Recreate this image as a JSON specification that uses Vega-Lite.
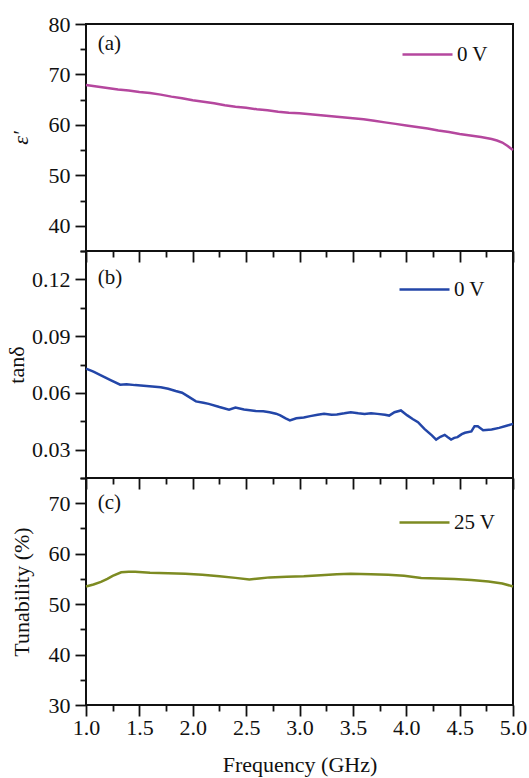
{
  "$schema": "https://vega.github.io/schema/vega-lite/v6.json",
  "background": "white",
  "padding": {"left": 4, "top": 12, "right": 4, "bottom": 4},
  "spacing": 0,
  "bounds": "flush",
  "config": {
    "font": "Liberation Serif",
    "view": {"stroke": "#111", "strokeWidth": 2},
    "axis": {
      "grid": false,
      "domain": false,
      "tickColor": "#111",
      "tickWidth": 1.8,
      "labelFlush": false,
      "labelOverlap": false,
      "labelFont": "Liberation Serif",
      "labelFontSize": 22,
      "labelColor": "#111",
      "titleFont": "Liberation Serif",
      "titleFontSize": 22,
      "titleFontWeight": "normal",
      "titleColor": "#111"
    },
    "legend": {
      "labelFont": "Liberation Serif",
      "labelFontSize": 21,
      "labelColor": "#111",
      "symbolType": "stroke",
      "symbolSize": 2500,
      "symbolStrokeWidth": 2.5,
      "labelOffset": 3,
      "padding": 0
    }
  },
  "resolve": {"scale": {"color": "independent"}},
  "datasets": {
    "eps": [
      {"f": 1.0, "v": 67.9}, {"f": 1.1, "v": 67.6}, {"f": 1.2, "v": 67.3}, {"f": 1.3, "v": 67.0},
      {"f": 1.4, "v": 66.8}, {"f": 1.5, "v": 66.5}, {"f": 1.6, "v": 66.3}, {"f": 1.7, "v": 66.0},
      {"f": 1.8, "v": 65.6}, {"f": 1.9, "v": 65.3}, {"f": 2.0, "v": 64.9}, {"f": 2.1, "v": 64.6},
      {"f": 2.2, "v": 64.3}, {"f": 2.3, "v": 63.9}, {"f": 2.4, "v": 63.6}, {"f": 2.5, "v": 63.4},
      {"f": 2.6, "v": 63.1}, {"f": 2.7, "v": 62.9}, {"f": 2.8, "v": 62.6}, {"f": 2.9, "v": 62.4},
      {"f": 3.0, "v": 62.3}, {"f": 3.1, "v": 62.1}, {"f": 3.2, "v": 61.9}, {"f": 3.3, "v": 61.7},
      {"f": 3.4, "v": 61.5}, {"f": 3.5, "v": 61.3}, {"f": 3.6, "v": 61.1}, {"f": 3.7, "v": 60.8},
      {"f": 3.8, "v": 60.5}, {"f": 3.9, "v": 60.2}, {"f": 4.0, "v": 59.9}, {"f": 4.1, "v": 59.6},
      {"f": 4.2, "v": 59.3}, {"f": 4.3, "v": 58.9}, {"f": 4.4, "v": 58.6}, {"f": 4.5, "v": 58.2},
      {"f": 4.6, "v": 57.9}, {"f": 4.7, "v": 57.6}, {"f": 4.75, "v": 57.4}, {"f": 4.8, "v": 57.2},
      {"f": 4.85, "v": 56.9}, {"f": 4.9, "v": 56.5}, {"f": 4.95, "v": 55.8}, {"f": 5.0, "v": 55.0}
    ],
    "tan": [
      {"f": 1.0, "v": 0.0728}, {"f": 1.07, "v": 0.0712}, {"f": 1.14, "v": 0.0693}, {"f": 1.23, "v": 0.0668},
      {"f": 1.32, "v": 0.0643}, {"f": 1.38, "v": 0.0646}, {"f": 1.46, "v": 0.0641}, {"f": 1.54, "v": 0.0638},
      {"f": 1.62, "v": 0.0634}, {"f": 1.7, "v": 0.0630}, {"f": 1.77, "v": 0.0622}, {"f": 1.84, "v": 0.0610},
      {"f": 1.9, "v": 0.0601}, {"f": 1.96, "v": 0.0580}, {"f": 2.03, "v": 0.0555}, {"f": 2.1, "v": 0.0548},
      {"f": 2.15, "v": 0.0542}, {"f": 2.25, "v": 0.0525}, {"f": 2.34, "v": 0.0511}, {"f": 2.4, "v": 0.0522},
      {"f": 2.48, "v": 0.0512}, {"f": 2.59, "v": 0.0504}, {"f": 2.66, "v": 0.0503}, {"f": 2.72, "v": 0.0498},
      {"f": 2.78, "v": 0.0490}, {"f": 2.82, "v": 0.0481}, {"f": 2.87, "v": 0.0465}, {"f": 2.91, "v": 0.0454},
      {"f": 2.97, "v": 0.0466}, {"f": 3.04, "v": 0.0470}, {"f": 3.1, "v": 0.0477}, {"f": 3.17, "v": 0.0484},
      {"f": 3.23, "v": 0.0489}, {"f": 3.3, "v": 0.0484}, {"f": 3.35, "v": 0.0486}, {"f": 3.42, "v": 0.0492},
      {"f": 3.48, "v": 0.0498}, {"f": 3.55, "v": 0.0492}, {"f": 3.61, "v": 0.0489}, {"f": 3.67, "v": 0.0492},
      {"f": 3.73, "v": 0.0489}, {"f": 3.8, "v": 0.0484}, {"f": 3.84, "v": 0.0480}, {"f": 3.89, "v": 0.0498},
      {"f": 3.95, "v": 0.0507}, {"f": 4.01, "v": 0.0481}, {"f": 4.06, "v": 0.0462}, {"f": 4.11, "v": 0.0445},
      {"f": 4.17, "v": 0.0410}, {"f": 4.24, "v": 0.0375}, {"f": 4.28, "v": 0.0353}, {"f": 4.32, "v": 0.0368},
      {"f": 4.36, "v": 0.0378}, {"f": 4.39, "v": 0.0365}, {"f": 4.42, "v": 0.0353}, {"f": 4.45, "v": 0.0362},
      {"f": 4.48, "v": 0.0366}, {"f": 4.52, "v": 0.0382}, {"f": 4.55, "v": 0.0389}, {"f": 4.61, "v": 0.0396},
      {"f": 4.64, "v": 0.0424}, {"f": 4.67, "v": 0.0424}, {"f": 4.72, "v": 0.0402}, {"f": 4.8, "v": 0.0406},
      {"f": 4.87, "v": 0.0415}, {"f": 4.94, "v": 0.0426}, {"f": 5.0, "v": 0.0436}
    ],
    "tun": [
      {"f": 1.0, "v": 53.5}, {"f": 1.07, "v": 53.9}, {"f": 1.14, "v": 54.4}, {"f": 1.2, "v": 55.0},
      {"f": 1.25, "v": 55.6}, {"f": 1.33, "v": 56.3}, {"f": 1.4, "v": 56.4}, {"f": 1.46, "v": 56.4},
      {"f": 1.6, "v": 56.2}, {"f": 1.77, "v": 56.1}, {"f": 1.93, "v": 56.0}, {"f": 2.09, "v": 55.8},
      {"f": 2.25, "v": 55.5}, {"f": 2.4, "v": 55.2}, {"f": 2.53, "v": 54.9}, {"f": 2.62, "v": 55.1},
      {"f": 2.72, "v": 55.3}, {"f": 2.88, "v": 55.4}, {"f": 3.04, "v": 55.5}, {"f": 3.2, "v": 55.7},
      {"f": 3.35, "v": 55.9}, {"f": 3.48, "v": 56.0}, {"f": 3.67, "v": 55.9}, {"f": 3.83, "v": 55.8},
      {"f": 3.98, "v": 55.6}, {"f": 4.14, "v": 55.2}, {"f": 4.3, "v": 55.1}, {"f": 4.45, "v": 55.0},
      {"f": 4.61, "v": 54.8}, {"f": 4.77, "v": 54.5}, {"f": 4.9, "v": 54.1}, {"f": 5.0, "v": 53.5}
    ]
  },
  "vconcat": [
    {
      "width": 427, "height": 227,
      "resolve": {"axis": {"x": "independent", "y": "independent"}},
      "layer": [
        {
          "data": {"name": "eps"},
          "transform": [{"calculate": "'0 V'", "as": "s"}],
          "mark": {"type": "line", "strokeWidth": 2.5},
          "encoding": {
            "x": {"field": "f", "type": "quantitative", "scale": {"domain": [1, 5], "nice": false, "zero": false},
                  "axis": {"orient": "bottom", "values": [1, 1.5, 2, 2.5, 3, 3.5, 4, 4.5, 5], "labels": false, "title": null, "tickSize": 11}},
            "y": {"field": "v", "type": "quantitative", "scale": {"domain": [35, 80], "nice": false, "zero": false},
                  "axis": {"orient": "left", "values": [40, 50, 60, 70, 80], "tickSize": 11, "labelPadding": 5, "title": "ε′", "titleFontStyle": "italic", "titlePadding": 16}},
            "color": {"field": "s", "type": "nominal", "scale": {"range": ["#b5479e"]},
                      "legend": {"title": null, "orient": "none", "legendX": 315, "legendY": 4}}
          }
        },
        {
          "data": {"values": [{"label": "(a)"}]},
          "mark": {"type": "text", "align": "left", "baseline": "middle", "fontSize": 21, "font": "Liberation Serif", "color": "#111"},
          "encoding": {
            "text": {"field": "label"},
            "x": {"datum": 1.11, "type": "quantitative",
                  "axis": {"orient": "bottom", "values": [1.25, 1.75, 2.25, 2.75, 3.25, 3.75, 4.25, 4.75], "labels": false, "title": null, "tickSize": 6}},
            "y": {"datum": 76.0, "type": "quantitative",
                  "axis": {"orient": "left", "values": [35, 45, 55, 65, 75], "labels": false, "title": null, "tickSize": 6}}
          }
        }
      ]
    },
    {
      "width": 427, "height": 227,
      "resolve": {"axis": {"x": "independent", "y": "independent"}},
      "layer": [
        {
          "data": {"name": "tan"},
          "transform": [{"calculate": "'0 V'", "as": "s"}],
          "mark": {"type": "line", "strokeWidth": 2.5},
          "encoding": {
            "x": {"field": "f", "type": "quantitative", "scale": {"domain": [1, 5], "nice": false, "zero": false},
                  "axis": {"orient": "bottom", "values": [1, 1.5, 2, 2.5, 3, 3.5, 4, 4.5, 5], "labels": false, "title": null, "tickSize": 11}},
            "y": {"field": "v", "type": "quantitative", "scale": {"domain": [0.015, 0.135], "nice": false, "zero": false},
                  "axis": {"orient": "left", "values": [0.03, 0.06, 0.09, 0.12], "format": ".2f", "tickSize": 11, "labelPadding": 5, "title": "tanδ", "titlePadding": 3}},
            "color": {"field": "s", "type": "nominal", "scale": {"range": ["#2346a8"]},
                      "legend": {"title": null, "orient": "none", "legendX": 312, "legendY": 12}}
          }
        },
        {
          "data": {"values": [{"label": "(b)"}]},
          "mark": {"type": "text", "align": "left", "baseline": "middle", "fontSize": 21, "font": "Liberation Serif", "color": "#111"},
          "encoding": {
            "text": {"field": "label"},
            "x": {"datum": 1.11, "type": "quantitative",
                  "axis": {"orient": "bottom", "values": [1.25, 1.75, 2.25, 2.75, 3.25, 3.75, 4.25, 4.75], "labels": false, "title": null, "tickSize": 6}},
            "y": {"datum": 0.1205, "type": "quantitative",
                  "axis": {"orient": "left", "values": [0.015, 0.045, 0.075, 0.105, 0.135], "labels": false, "title": null, "tickSize": 6}}
          }
        }
      ]
    },
    {
      "width": 427, "height": 227,
      "resolve": {"axis": {"x": "independent", "y": "independent"}},
      "layer": [
        {
          "data": {"name": "tun"},
          "transform": [{"calculate": "'25 V'", "as": "s"}],
          "mark": {"type": "line", "strokeWidth": 2.5},
          "encoding": {
            "x": {"field": "f", "type": "quantitative", "scale": {"domain": [1, 5], "nice": false, "zero": false},
                  "axis": {"orient": "bottom", "values": [1, 1.5, 2, 2.5, 3, 3.5, 4, 4.5, 5], "format": ".1f", "tickSize": 11, "labelPadding": 1, "title": "Frequency (GHz)", "titlePadding": 16}},
            "y": {"field": "v", "type": "quantitative", "scale": {"domain": [30, 75], "nice": false, "zero": false},
                  "axis": {"orient": "left", "values": [30, 40, 50, 60, 70], "tickSize": 11, "labelPadding": 5, "title": "Tunability (%)", "titlePadding": 15}},
            "color": {"field": "s", "type": "nominal", "scale": {"range": ["#7d8b22"]},
                      "legend": {"title": null, "orient": "none", "legendX": 312, "legendY": 18}}
          }
        },
        {
          "data": {"values": [{"label": "(c)"}]},
          "mark": {"type": "text", "align": "left", "baseline": "middle", "fontSize": 21, "font": "Liberation Serif", "color": "#111"},
          "encoding": {
            "text": {"field": "label"},
            "x": {"datum": 1.11, "type": "quantitative",
                  "axis": {"orient": "bottom", "values": [1.25, 1.75, 2.25, 2.75, 3.25, 3.75, 4.25, 4.75], "labels": false, "title": null, "tickSize": 6}},
            "y": {"datum": 70.0, "type": "quantitative",
                  "axis": {"orient": "left", "values": [35, 45, 55, 65, 75], "labels": false, "title": null, "tickSize": 6}}
          }
        }
      ]
    }
  ]
}
